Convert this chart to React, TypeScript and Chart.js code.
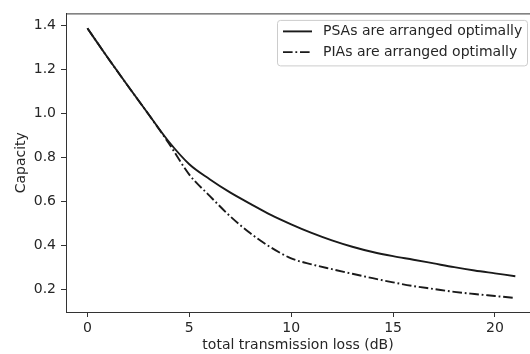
import React, { useEffect, useRef } from "react";
import { Chart, registerables } from "chart.js";

Chart.register(...registerables);

const xValues = [0, 1, 2, 3, 4, 5, 6, 7, 8, 9, 10, 11, 12, 13, 14, 15, 16, 17, 18, 19, 20, 21];
const psaCapacity = [1.386, 1.252, 1.122, 0.995, 0.870, 0.768, 0.700, 0.640, 0.588, 0.538, 0.495, 0.456, 0.422, 0.393, 0.369, 0.350, 0.334, 0.317, 0.300, 0.285, 0.272, 0.259];
const piaCapacity = [1.386, 1.252, 1.122, 0.995, 0.862, 0.721, 0.624, 0.532, 0.454, 0.390, 0.340, 0.313, 0.291, 0.270, 0.250, 0.231, 0.214, 0.201, 0.188, 0.178, 0.169, 0.160];
const seriesLabels = ["PSAs are arranged optimally", "PIAs are arranged optimally"];
const xTicks = [0, 5, 10, 15, 20];
const yTicks = [0.2, 0.4, 0.6, 0.8, 1.0, 1.2, 1.4];
const xTitle = "total transmission loss (dB)";
const yTitle = "Capacity";

const FONT = "'DejaVu Sans', sans-serif";
const FS = 14;
const TEXT = "#262626";
const AXIS = "#333333";

const framePlugin = {
  id: "frameAndLegend",
  afterDraw(chart: any) {
    const ctx = chart.ctx;
    const a = chart.chartArea;
    ctx.save();
    ctx.strokeStyle = AXIS;
    ctx.lineWidth = 1;
    ctx.beginPath();
    ctx.moveTo(a.left, a.top + 0.5);
    ctx.lineTo(a.right, a.top + 0.5);
    ctx.stroke();

    const bx = a.left + 211.5;
    const by = a.top + 7;
    const bw = 250;
    const bh = 45.5;
    const r = 3;
    ctx.beginPath();
    ctx.moveTo(bx + r, by);
    ctx.lineTo(bx + bw - r, by);
    ctx.quadraticCurveTo(bx + bw, by, bx + bw, by + r);
    ctx.lineTo(bx + bw, by + bh - r);
    ctx.quadraticCurveTo(bx + bw, by + bh, bx + bw - r, by + bh);
    ctx.lineTo(bx + r, by + bh);
    ctx.quadraticCurveTo(bx, by + bh, bx, by + bh - r);
    ctx.lineTo(bx, by + r);
    ctx.quadraticCurveTo(bx, by, bx + r, by);
    ctx.closePath();
    ctx.fillStyle = "rgba(255,255,255,0.85)";
    ctx.fill();
    ctx.strokeStyle = "#cccccc";
    ctx.lineWidth = 1;
    ctx.stroke();

    chart.data.datasets.forEach((ds: any, i: number) => {
      const yy = by + 11 + i * 20.7;
      ctx.strokeStyle = ds.borderColor;
      ctx.lineWidth = ds.borderWidth;
      ctx.setLineDash(ds.borderDash || []);
      ctx.beginPath();
      ctx.moveTo(bx + 5.5, yy);
      ctx.lineTo(bx + 34.5, yy);
      ctx.stroke();
      ctx.setLineDash([]);
      ctx.fillStyle = TEXT;
      ctx.font = `${FS}px ${FONT}`;
      ctx.textBaseline = "middle";
      ctx.textAlign = "left";
      ctx.fillText(ds.label, bx + 45.5, yy);
    });
    ctx.restore();
  },
};

export default function App() {
  const ref = useRef<HTMLCanvasElement | null>(null);

  useEffect(() => {
    if (!ref.current) return;
    const chart = new Chart(ref.current, {
      type: "line",
      data: {
        datasets: [
          {
            label: seriesLabels[0],
            data: xValues.map((x, i) => ({ x, y: psaCapacity[i] })),
            borderColor: "#1a1a1a",
            borderWidth: 1.9,
            pointRadius: 0,
            cubicInterpolationMode: "monotone",
            fill: false,
          },
          {
            label: seriesLabels[1],
            data: xValues.map((x, i) => ({ x, y: piaCapacity[i] })),
            borderColor: "#1a1a1a",
            borderWidth: 1.9,
            borderDash: [9.6, 2.8, 1.8, 2.8],
            pointRadius: 0,
            cubicInterpolationMode: "monotone",
            fill: false,
          },
        ],
      },
      plugins: [framePlugin],
      options: {
        responsive: false,
        animation: false,
        devicePixelRatio: 1,
        layout: { padding: { top: 7, right: 0, left: 0, bottom: 0 } },
        plugins: {
          legend: { display: false },
          tooltip: { enabled: false },
        },
        scales: {
          x: {
            type: "linear",
            min: -1.05,
            max: 21.72,
            afterBuildTicks: (s: any) => {
              s.ticks = xTicks.map((v) => ({ value: v }));
            },
            afterFit: (s: any) => {
              s.height = 42;
            },
            ticks: {
              color: TEXT,
              font: { family: FONT, size: FS },
              padding: 3,
              maxRotation: 0,
              callback: (v: any) => String(v),
            },
            grid: {
              drawOnChartArea: false,
              drawTicks: true,
              tickLength: 5,
              color: AXIS,
            },
            border: { display: true, color: AXIS, width: 1 },
            title: {
              display: true,
              text: xTitle,
              color: TEXT,
              font: { family: FONT, size: FS },
              padding: { top: 0, bottom: 0 },
            },
          },
          y: {
            type: "linear",
            min: 0.0963,
            max: 1.4534,
            afterBuildTicks: (s: any) => {
              s.ticks = yTicks.map((v) => ({ value: v }));
            },
            afterFit: (s: any) => {
              s.width = 66;
            },
            ticks: {
              color: TEXT,
              font: { family: FONT, size: FS },
              padding: 5,
              callback: (v: any) => Number(v).toFixed(1),
            },
            grid: {
              drawOnChartArea: false,
              drawTicks: true,
              tickLength: 5,
              color: AXIS,
            },
            border: { display: true, color: AXIS, width: 1 },
            title: {
              display: true,
              text: yTitle,
              color: TEXT,
              font: { family: FONT, size: FS },
              padding: { top: 12.5, bottom: 0 },
            },
          },
        },
      },
    } as any);
    return () => chart.destroy();
  }, []);

  return (
    <div style={{ position: "fixed", left: 0, top: 0, width: 530, height: 354, background: "#fff" }}>
      <canvas ref={ref} width={530} height={354} style={{ display: "block", width: 530, height: 354 }} />
    </div>
  );
}
